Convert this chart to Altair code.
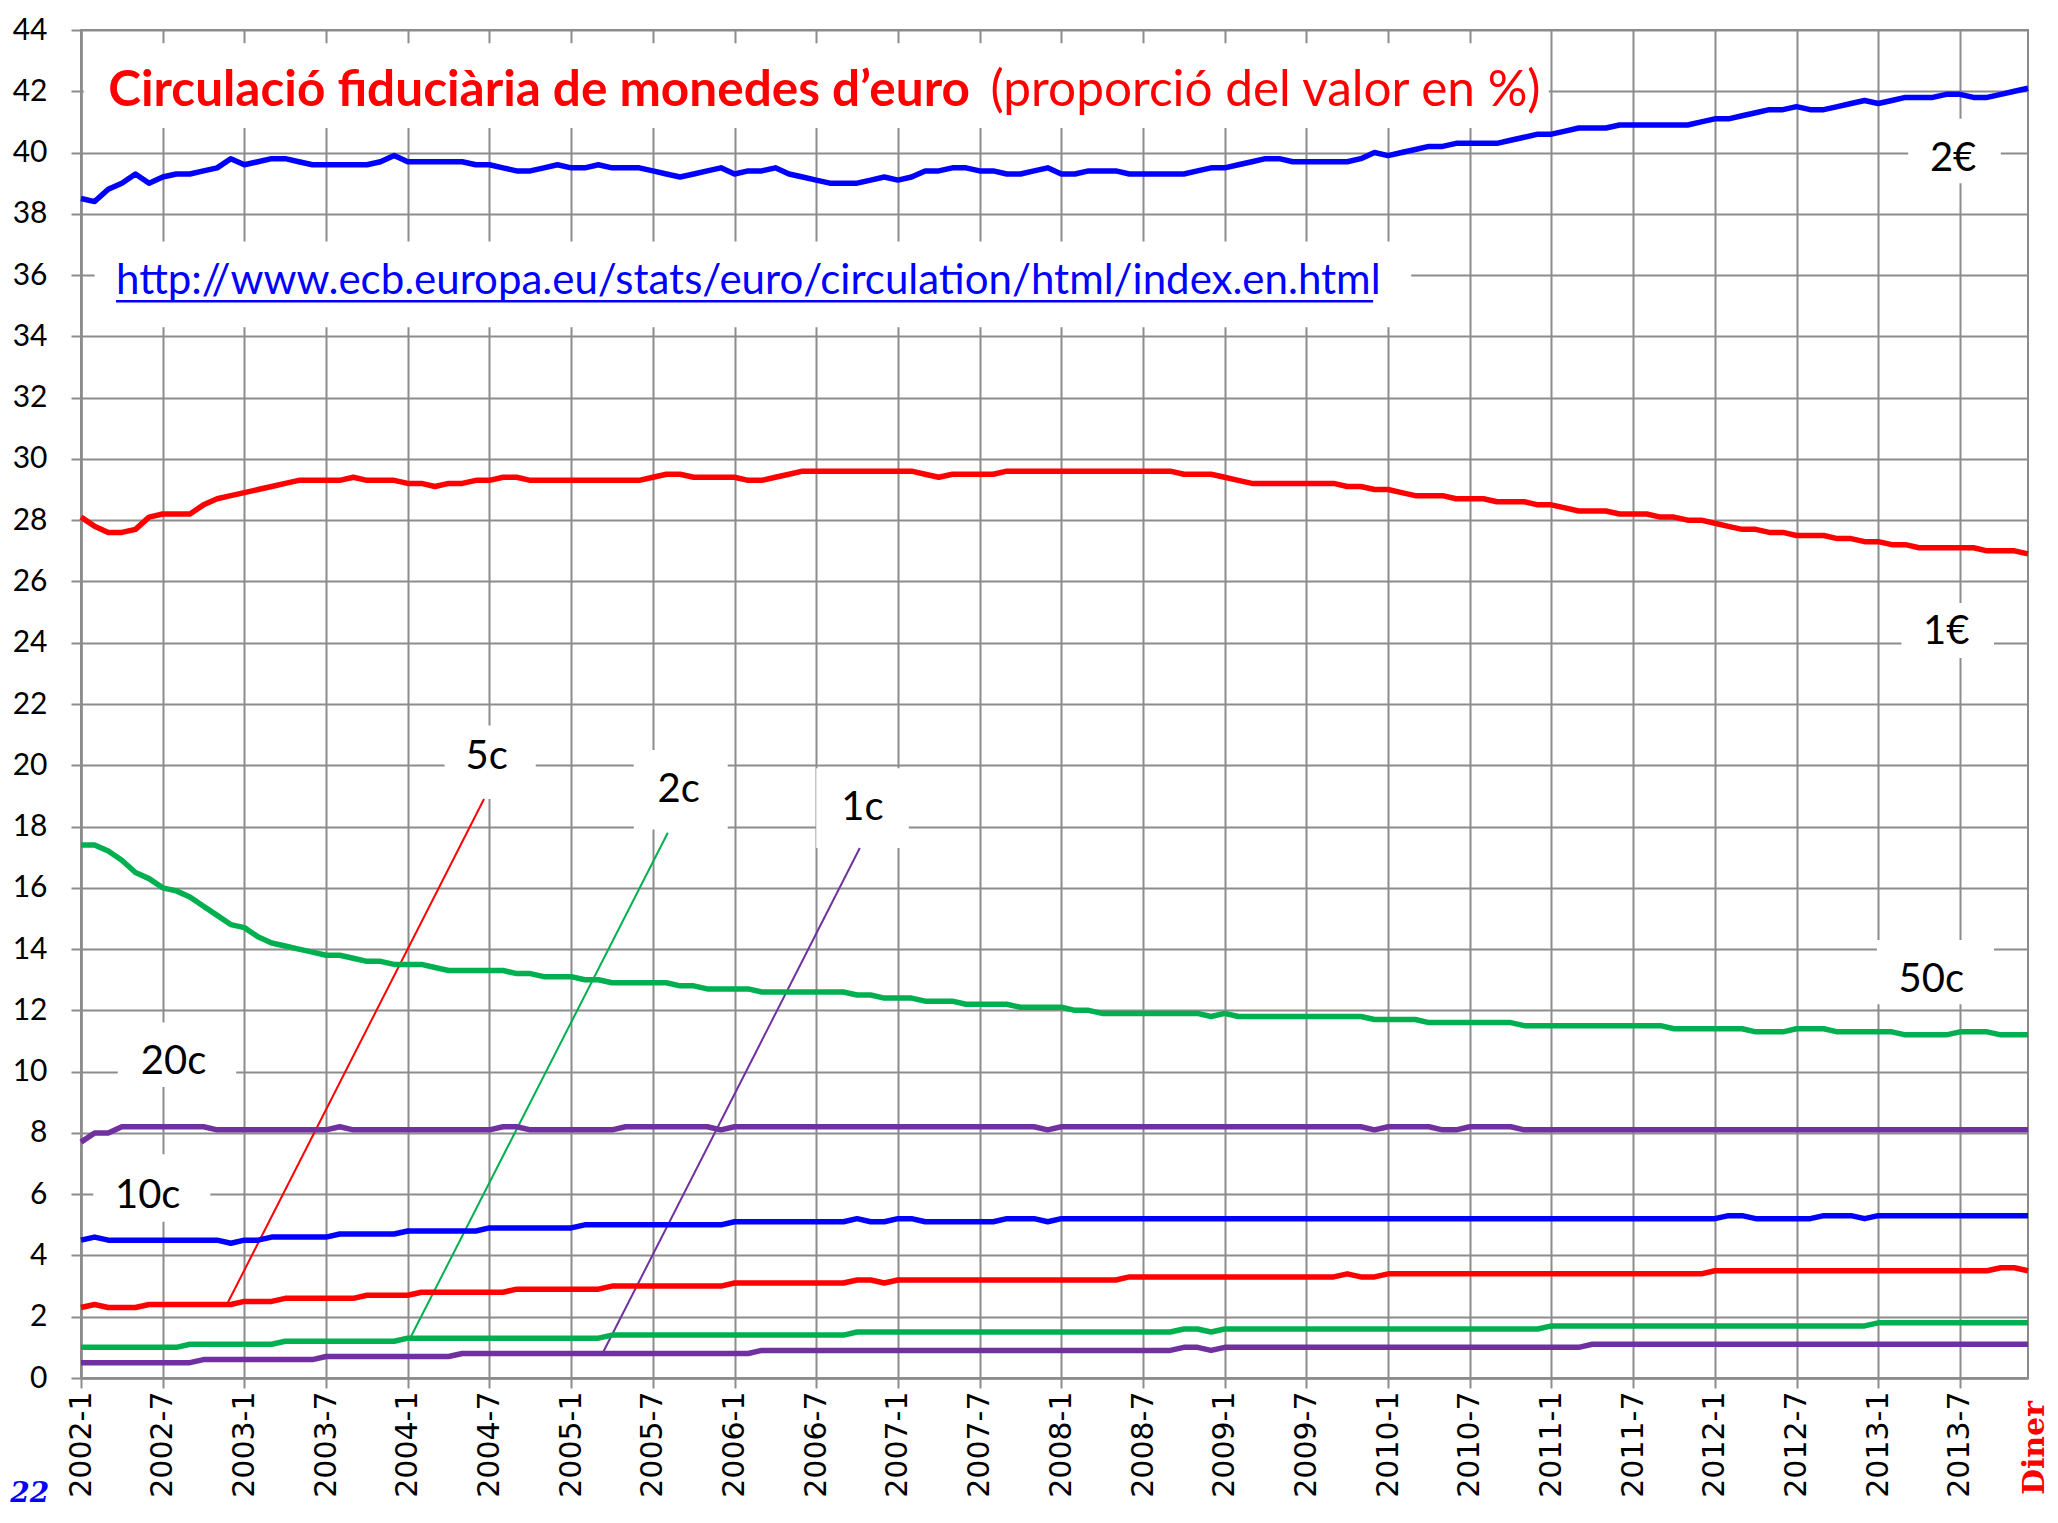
import json
import altair as alt
import pandas as pd

# ---------------- data (monthly, 2002-1 .. 2013-12, index 0..143) ----------------
tick_labels = ["2002-1", "2002-7", "2003-1", "2003-7", "2004-1", "2004-7", "2005-1", "2005-7",
               "2006-1", "2006-7", "2007-1", "2007-7", "2008-1", "2008-7", "2009-1", "2009-7",
               "2010-1", "2010-7", "2011-1", "2011-7", "2012-1", "2012-7", "2013-1", "2013-7"]

eur2 = [38.5, 38.4, 38.8, 39.0, 39.3, 39.0, 39.2, 39.3, 39.3, 39.4, 39.5, 39.8,
        39.6, 39.7, 39.8, 39.8, 39.7, 39.6, 39.6, 39.6, 39.6, 39.6, 39.7, 39.9,
        39.7, 39.7, 39.7, 39.7, 39.7, 39.6, 39.6, 39.5, 39.4, 39.4, 39.5, 39.6,
        39.5, 39.5, 39.6, 39.5, 39.5, 39.5, 39.4, 39.3, 39.2, 39.3, 39.4, 39.5,
        39.3, 39.4, 39.4, 39.5, 39.3, 39.2, 39.1, 39.0, 39.0, 39.0, 39.1, 39.2,
        39.1, 39.2, 39.4, 39.4, 39.5, 39.5, 39.4, 39.4, 39.3, 39.3, 39.4, 39.5,
        39.3, 39.3, 39.4, 39.4, 39.4, 39.3, 39.3, 39.3, 39.3, 39.3, 39.4, 39.5,
        39.5, 39.6, 39.7, 39.8, 39.8, 39.7, 39.7, 39.7, 39.7, 39.7, 39.8, 40.0,
        39.9, 40.0, 40.1, 40.2, 40.2, 40.3, 40.3, 40.3, 40.3, 40.4, 40.5, 40.6,
        40.6, 40.7, 40.8, 40.8, 40.8, 40.9, 40.9, 40.9, 40.9, 40.9, 40.9, 41.0,
        41.1, 41.1, 41.2, 41.3, 41.4, 41.4, 41.5, 41.4, 41.4, 41.5, 41.6, 41.7,
        41.6, 41.7, 41.8, 41.8, 41.8, 41.9, 41.9, 41.8, 41.8, 41.9, 42.0, 42.1]

eur1 = [28.1, 27.8, 27.6, 27.6, 27.7, 28.1, 28.2, 28.2, 28.2, 28.5, 28.7, 28.8,
        28.9, 29.0, 29.1, 29.2, 29.3, 29.3, 29.3, 29.3, 29.4, 29.3, 29.3, 29.3,
        29.2, 29.2, 29.1, 29.2, 29.2, 29.3, 29.3, 29.4, 29.4, 29.3, 29.3, 29.3,
        29.3, 29.3, 29.3, 29.3, 29.3, 29.3, 29.4, 29.5, 29.5, 29.4, 29.4, 29.4,
        29.4, 29.3, 29.3, 29.4, 29.5, 29.6, 29.6, 29.6, 29.6, 29.6, 29.6, 29.6,
        29.6, 29.6, 29.5, 29.4, 29.5, 29.5, 29.5, 29.5, 29.6, 29.6, 29.6, 29.6,
        29.6, 29.6, 29.6, 29.6, 29.6, 29.6, 29.6, 29.6, 29.6, 29.5, 29.5, 29.5,
        29.4, 29.3, 29.2, 29.2, 29.2, 29.2, 29.2, 29.2, 29.2, 29.1, 29.1, 29.0,
        29.0, 28.9, 28.8, 28.8, 28.8, 28.7, 28.7, 28.7, 28.6, 28.6, 28.6, 28.5,
        28.5, 28.4, 28.3, 28.3, 28.3, 28.2, 28.2, 28.2, 28.1, 28.1, 28.0, 28.0,
        27.9, 27.8, 27.7, 27.7, 27.6, 27.6, 27.5, 27.5, 27.5, 27.4, 27.4, 27.3,
        27.3, 27.2, 27.2, 27.1, 27.1, 27.1, 27.1, 27.1, 27.0, 27.0, 27.0, 26.9]

c50 = [17.4, 17.4, 17.2, 16.9, 16.5, 16.3, 16.0, 15.9, 15.7, 15.4, 15.1, 14.8,
       14.7, 14.4, 14.2, 14.1, 14.0, 13.9, 13.8, 13.8, 13.7, 13.6, 13.6, 13.5,
       13.5, 13.5, 13.4, 13.3, 13.3, 13.3, 13.3, 13.3, 13.2, 13.2, 13.1, 13.1,
       13.1, 13.0, 13.0, 12.9, 12.9, 12.9, 12.9, 12.9, 12.8, 12.8, 12.7, 12.7,
       12.7, 12.7, 12.6, 12.6, 12.6, 12.6, 12.6, 12.6, 12.6, 12.5, 12.5, 12.4,
       12.4, 12.4, 12.3, 12.3, 12.3, 12.2, 12.2, 12.2, 12.2, 12.1, 12.1, 12.1,
       12.1, 12.0, 12.0, 11.9, 11.9, 11.9, 11.9, 11.9, 11.9, 11.9, 11.9, 11.8,
       11.9, 11.8, 11.8, 11.8, 11.8, 11.8, 11.8, 11.8, 11.8, 11.8, 11.8, 11.7,
       11.7, 11.7, 11.7, 11.6, 11.6, 11.6, 11.6, 11.6, 11.6, 11.6, 11.5, 11.5,
       11.5, 11.5, 11.5, 11.5, 11.5, 11.5, 11.5, 11.5, 11.5, 11.4, 11.4, 11.4,
       11.4, 11.4, 11.4, 11.3, 11.3, 11.3, 11.4, 11.4, 11.4, 11.3, 11.3, 11.3,
       11.3, 11.3, 11.2, 11.2, 11.2, 11.2, 11.3, 11.3, 11.3, 11.2, 11.2, 11.2]

c20 = [7.7, 8.0, 8.0, 8.2, 8.2, 8.2, 8.2, 8.2, 8.2, 8.2, 8.1, 8.1,
       8.1, 8.1, 8.1, 8.1, 8.1, 8.1, 8.1, 8.2, 8.1, 8.1, 8.1, 8.1,
       8.1, 8.1, 8.1, 8.1, 8.1, 8.1, 8.1, 8.2, 8.2, 8.1, 8.1, 8.1,
       8.1, 8.1, 8.1, 8.1, 8.2, 8.2, 8.2, 8.2, 8.2, 8.2, 8.2, 8.1,
       8.2, 8.2, 8.2, 8.2, 8.2, 8.2, 8.2, 8.2, 8.2, 8.2, 8.2, 8.2,
       8.2, 8.2, 8.2, 8.2, 8.2, 8.2, 8.2, 8.2, 8.2, 8.2, 8.2, 8.1,
       8.2, 8.2, 8.2, 8.2, 8.2, 8.2, 8.2, 8.2, 8.2, 8.2, 8.2, 8.2,
       8.2, 8.2, 8.2, 8.2, 8.2, 8.2, 8.2, 8.2, 8.2, 8.2, 8.2, 8.1,
       8.2, 8.2, 8.2, 8.2, 8.1, 8.1, 8.2, 8.2, 8.2, 8.2, 8.1, 8.1,
       8.1, 8.1, 8.1, 8.1, 8.1, 8.1, 8.1, 8.1, 8.1, 8.1, 8.1, 8.1,
       8.1, 8.1, 8.1, 8.1, 8.1, 8.1, 8.1, 8.1, 8.1, 8.1, 8.1, 8.1,
       8.1, 8.1, 8.1, 8.1, 8.1, 8.1, 8.1, 8.1, 8.1, 8.1, 8.1, 8.1]

c10 = [4.5, 4.6, 4.5, 4.5, 4.5, 4.5, 4.5, 4.5, 4.5, 4.5, 4.5, 4.4,
       4.5, 4.5, 4.6, 4.6, 4.6, 4.6, 4.6, 4.7, 4.7, 4.7, 4.7, 4.7,
       4.8, 4.8, 4.8, 4.8, 4.8, 4.8, 4.9, 4.9, 4.9, 4.9, 4.9, 4.9,
       4.9, 5.0, 5.0, 5.0, 5.0, 5.0, 5.0, 5.0, 5.0, 5.0, 5.0, 5.0,
       5.1, 5.1, 5.1, 5.1, 5.1, 5.1, 5.1, 5.1, 5.1, 5.2, 5.1, 5.1,
       5.2, 5.2, 5.1, 5.1, 5.1, 5.1, 5.1, 5.1, 5.2, 5.2, 5.2, 5.1,
       5.2, 5.2, 5.2, 5.2, 5.2, 5.2, 5.2, 5.2, 5.2, 5.2, 5.2, 5.2,
       5.2, 5.2, 5.2, 5.2, 5.2, 5.2, 5.2, 5.2, 5.2, 5.2, 5.2, 5.2,
       5.2, 5.2, 5.2, 5.2, 5.2, 5.2, 5.2, 5.2, 5.2, 5.2, 5.2, 5.2,
       5.2, 5.2, 5.2, 5.2, 5.2, 5.2, 5.2, 5.2, 5.2, 5.2, 5.2, 5.2,
       5.2, 5.3, 5.3, 5.2, 5.2, 5.2, 5.2, 5.2, 5.3, 5.3, 5.3, 5.2,
       5.3, 5.3, 5.3, 5.3, 5.3, 5.3, 5.3, 5.3, 5.3, 5.3, 5.3, 5.3]

c5 = [2.3, 2.4, 2.3, 2.3, 2.3, 2.4, 2.4, 2.4, 2.4, 2.4, 2.4, 2.4,
      2.5, 2.5, 2.5, 2.6, 2.6, 2.6, 2.6, 2.6, 2.6, 2.7, 2.7, 2.7,
      2.7, 2.8, 2.8, 2.8, 2.8, 2.8, 2.8, 2.8, 2.9, 2.9, 2.9, 2.9,
      2.9, 2.9, 2.9, 3.0, 3.0, 3.0, 3.0, 3.0, 3.0, 3.0, 3.0, 3.0,
      3.1, 3.1, 3.1, 3.1, 3.1, 3.1, 3.1, 3.1, 3.1, 3.2, 3.2, 3.1,
      3.2, 3.2, 3.2, 3.2, 3.2, 3.2, 3.2, 3.2, 3.2, 3.2, 3.2, 3.2,
      3.2, 3.2, 3.2, 3.2, 3.2, 3.3, 3.3, 3.3, 3.3, 3.3, 3.3, 3.3,
      3.3, 3.3, 3.3, 3.3, 3.3, 3.3, 3.3, 3.3, 3.3, 3.4, 3.3, 3.3,
      3.4, 3.4, 3.4, 3.4, 3.4, 3.4, 3.4, 3.4, 3.4, 3.4, 3.4, 3.4,
      3.4, 3.4, 3.4, 3.4, 3.4, 3.4, 3.4, 3.4, 3.4, 3.4, 3.4, 3.4,
      3.5, 3.5, 3.5, 3.5, 3.5, 3.5, 3.5, 3.5, 3.5, 3.5, 3.5, 3.5,
      3.5, 3.5, 3.5, 3.5, 3.5, 3.5, 3.5, 3.5, 3.5, 3.6, 3.6, 3.5]

c2 = [1.0, 1.0, 1.0, 1.0, 1.0, 1.0, 1.0, 1.0, 1.1, 1.1, 1.1, 1.1,
      1.1, 1.1, 1.1, 1.2, 1.2, 1.2, 1.2, 1.2, 1.2, 1.2, 1.2, 1.2,
      1.3, 1.3, 1.3, 1.3, 1.3, 1.3, 1.3, 1.3, 1.3, 1.3, 1.3, 1.3,
      1.3, 1.3, 1.3, 1.4, 1.4, 1.4, 1.4, 1.4, 1.4, 1.4, 1.4, 1.4,
      1.4, 1.4, 1.4, 1.4, 1.4, 1.4, 1.4, 1.4, 1.4, 1.5, 1.5, 1.5,
      1.5, 1.5, 1.5, 1.5, 1.5, 1.5, 1.5, 1.5, 1.5, 1.5, 1.5, 1.5,
      1.5, 1.5, 1.5, 1.5, 1.5, 1.5, 1.5, 1.5, 1.5, 1.6, 1.6, 1.5,
      1.6, 1.6, 1.6, 1.6, 1.6, 1.6, 1.6, 1.6, 1.6, 1.6, 1.6, 1.6,
      1.6, 1.6, 1.6, 1.6, 1.6, 1.6, 1.6, 1.6, 1.6, 1.6, 1.6, 1.6,
      1.7, 1.7, 1.7, 1.7, 1.7, 1.7, 1.7, 1.7, 1.7, 1.7, 1.7, 1.7,
      1.7, 1.7, 1.7, 1.7, 1.7, 1.7, 1.7, 1.7, 1.7, 1.7, 1.7, 1.7,
      1.8, 1.8, 1.8, 1.8, 1.8, 1.8, 1.8, 1.8, 1.8, 1.8, 1.8, 1.8]

c1 = [0.5, 0.5, 0.5, 0.5, 0.5, 0.5, 0.5, 0.5, 0.5, 0.6, 0.6, 0.6,
      0.6, 0.6, 0.6, 0.6, 0.6, 0.6, 0.7, 0.7, 0.7, 0.7, 0.7, 0.7,
      0.7, 0.7, 0.7, 0.7, 0.8, 0.8, 0.8, 0.8, 0.8, 0.8, 0.8, 0.8,
      0.8, 0.8, 0.8, 0.8, 0.8, 0.8, 0.8, 0.8, 0.8, 0.8, 0.8, 0.8,
      0.8, 0.8, 0.9, 0.9, 0.9, 0.9, 0.9, 0.9, 0.9, 0.9, 0.9, 0.9,
      0.9, 0.9, 0.9, 0.9, 0.9, 0.9, 0.9, 0.9, 0.9, 0.9, 0.9, 0.9,
      0.9, 0.9, 0.9, 0.9, 0.9, 0.9, 0.9, 0.9, 0.9, 1.0, 1.0, 0.9,
      1.0, 1.0, 1.0, 1.0, 1.0, 1.0, 1.0, 1.0, 1.0, 1.0, 1.0, 1.0,
      1.0, 1.0, 1.0, 1.0, 1.0, 1.0, 1.0, 1.0, 1.0, 1.0, 1.0, 1.0,
      1.0, 1.0, 1.0, 1.1, 1.1, 1.1, 1.1, 1.1, 1.1, 1.1, 1.1, 1.1,
      1.1, 1.1, 1.1, 1.1, 1.1, 1.1, 1.1, 1.1, 1.1, 1.1, 1.1, 1.1,
      1.1, 1.1, 1.1, 1.1, 1.1, 1.1, 1.1, 1.1, 1.1, 1.1, 1.1, 1.1]

series_names = ["2€", "1€", "50c", "20c", "10c", "5c", "2c", "1c"]
series_values = [eur2, eur1, c50, c20, c10, c5, c2, c1]
series_colors = ["#0000FF", "#FF0000", "#00B050", "#7030A0",
                 "#0000FF", "#FF0000", "#00B050", "#7030A0"]

# coin labels (text, month index, value)
label_text = ["2€", "1€", "50c", "20c", "10c", "5c", "2c", "1c"]
label_m = [137.5, 137.0, 135.9, 6.8, 4.9, 29.8, 43.9, 57.4]
label_v = [39.8, 24.35, 13.0, 10.3, 5.95, 20.26, 19.2, 18.6]

# white boxes behind labels / title / url: m, m2, v, v2
box_m = [0.2, 1.0, 134.2, 133.7, 131.9, 2.7, 0.9, 26.7, 40.6, 54.0]
box_m2 = [107.8, 97.7, 141.0, 140.5, 140.5, 11.4, 9.5, 33.4, 47.5, 60.8]
box_v = [40.8, 34.3, 39.0, 23.5, 12.2, 9.5, 5.1, 18.9, 17.9, 17.3]
box_v2 = [43.57, 37.1, 41.1, 25.3, 14.3, 11.6, 7.3, 21.3, 20.5, 19.9]

# leader lines for 5c, 2c, 1c
lead_m = [10.75, 24.2, 38.3]
lead_v = [2.43, 1.32, 0.8]
lead_m2 = [29.6, 43.1, 57.2]
lead_v2 = [18.9, 17.8, 17.3]
lead_c = ["#FF0000", "#00B050", "#7030A0"]

for s in series_values:
    assert len(s) == 144, len(s)

# ---------------- tables ----------------
rows = []
for name, vals in zip(series_names, series_values):
    for i, v in enumerate(vals):
        rows.append({"m": i, "v": v, "s": name})
df = pd.DataFrame(rows)

labels_df = pd.DataFrame({"t": label_text, "m": label_m, "v": label_v})
boxes_df = pd.DataFrame({"m": box_m, "m2": box_m2, "v": box_v, "v2": box_v2})
lead_df = pd.DataFrame({"m": lead_m, "v": lead_v, "m2": lead_m2, "v2": lead_v2, "c": lead_c})

GRID = "#8c8c8c"
xs = alt.Scale(domain=[0, 143], nice=False, zero=False)
ys = alt.Scale(domain=[0, 44], nice=False, zero=False)

x_axis = alt.Axis(values=list(range(0, 139, 6)),
                  labelExpr=json.dumps(tick_labels) + "[round(datum.value / 6)]",
                  title=None, labelAngle=270, labelFont="DejaVu Sans", labelFontSize=30,
                  labelColor="black", labelPadding=3, labelOverlap=False, labelFlush=False,
                  tickSize=10, tickColor=GRID, tickWidth=2,
                  domainColor=GRID, domainWidth=2.5,
                  grid=True, gridColor=GRID, gridWidth=2)
y_axis = alt.Axis(values=list(range(0, 45, 2)), title=None,
                  labelFont="Lato", labelFontSize=30, labelColor="black", labelPadding=24,
                  tickSize=10, tickColor=GRID, tickWidth=2,
                  domainColor=GRID, domainWidth=2.5,
                  grid=True, gridColor=GRID, gridWidth=2)

X = alt.X("m:Q", scale=xs, axis=x_axis)
Y = alt.Y("v:Q", scale=ys, axis=y_axis)

boxes = alt.Chart(boxes_df).mark_rect(color="white").encode(
    x=X, x2="m2:Q", y=Y, y2="v2:Q")

leaders = alt.Chart(lead_df).mark_rule(strokeWidth=2).encode(
    x=X, x2="m2:Q", y=Y, y2="v2:Q", color=alt.Color("c:N", scale=None))

lines = alt.Chart(df).mark_line(strokeWidth=5.5, strokeJoin="round").encode(
    x=X, y=Y,
    color=alt.Color("s:N", scale=alt.Scale(domain=series_names, range=series_colors), legend=None),
    order=alt.Order("m:Q"))

labels = alt.Chart(labels_df).mark_text(font="Lato", fontSize=40, color="black",
                                        align="center", baseline="middle").encode(
    x=X, y=Y, text="t:N")

title_bold = alt.Chart(pd.DataFrame({"m": [2.0], "v": [42.0], "t": ["Circulació fiduciària de monedes d’euro"]})).mark_text(
    font="Lato", fontSize=49.5, fontWeight="bold", color="#FF0000", align="left", baseline="middle").encode(
    x=X, y=Y, text="t:N")
title_norm = alt.Chart(pd.DataFrame({"m": [66.8], "v": [42.0], "t": ["(proporció del valor en %)"]})).mark_text(
    font="Lato", fontSize=49.5, color="#FF0000", align="left", baseline="middle").encode(
    x=X, y=Y, text="t:N")

url = alt.Chart(pd.DataFrame({"m": [2.57], "v": [35.8], "t": ["http://www.ecb.europa.eu/stats/euro/circulation/html/index.en.html"]})).mark_text(
    font="Lato", fontSize=42, color="#0000FF", align="left", baseline="middle").encode(
    x=X, y=Y, text="t:N")
url_line = alt.Chart(pd.DataFrame({"m": [2.57], "m2": [94.9], "v": [35.15]})).mark_rule(
    color="#0000FF", strokeWidth=2.5).encode(x=X, x2="m2:Q", y=Y)

mark22 = alt.Chart(pd.DataFrame({"m": [-5.2], "v": [-3.8], "t": ["22"]})).mark_text(
    font="DejaVu Serif", fontSize=28, fontWeight="bold", fontStyle="italic", color="#0000FF",
    align="left", baseline="middle").encode(x=X, y=Y, text="t:N")
diner = alt.Chart(pd.DataFrame({"m": [143.5], "v": [-0.75], "t": ["Diner"]})).mark_text(
    font="DejaVu Serif", fontSize=30, fontWeight="bold", color="#FF0000", angle=270,
    align="right", baseline="middle").encode(x=X, y=Y, text="t:N")

chart = alt.layer(boxes, leaders, lines, labels, title_bold, title_norm, url, url_line,
                  mark22, diner).properties(
    width=1947, height=1348,
    autosize=alt.AutoSizeParams(type="none"),
    padding={"left": 73, "top": 22, "right": 22, "bottom": 132},
    background="white",
).configure_view(stroke=GRID, strokeWidth=2)

chart.save("out.html", embed_options={"renderer": "svg", "actions": False})
